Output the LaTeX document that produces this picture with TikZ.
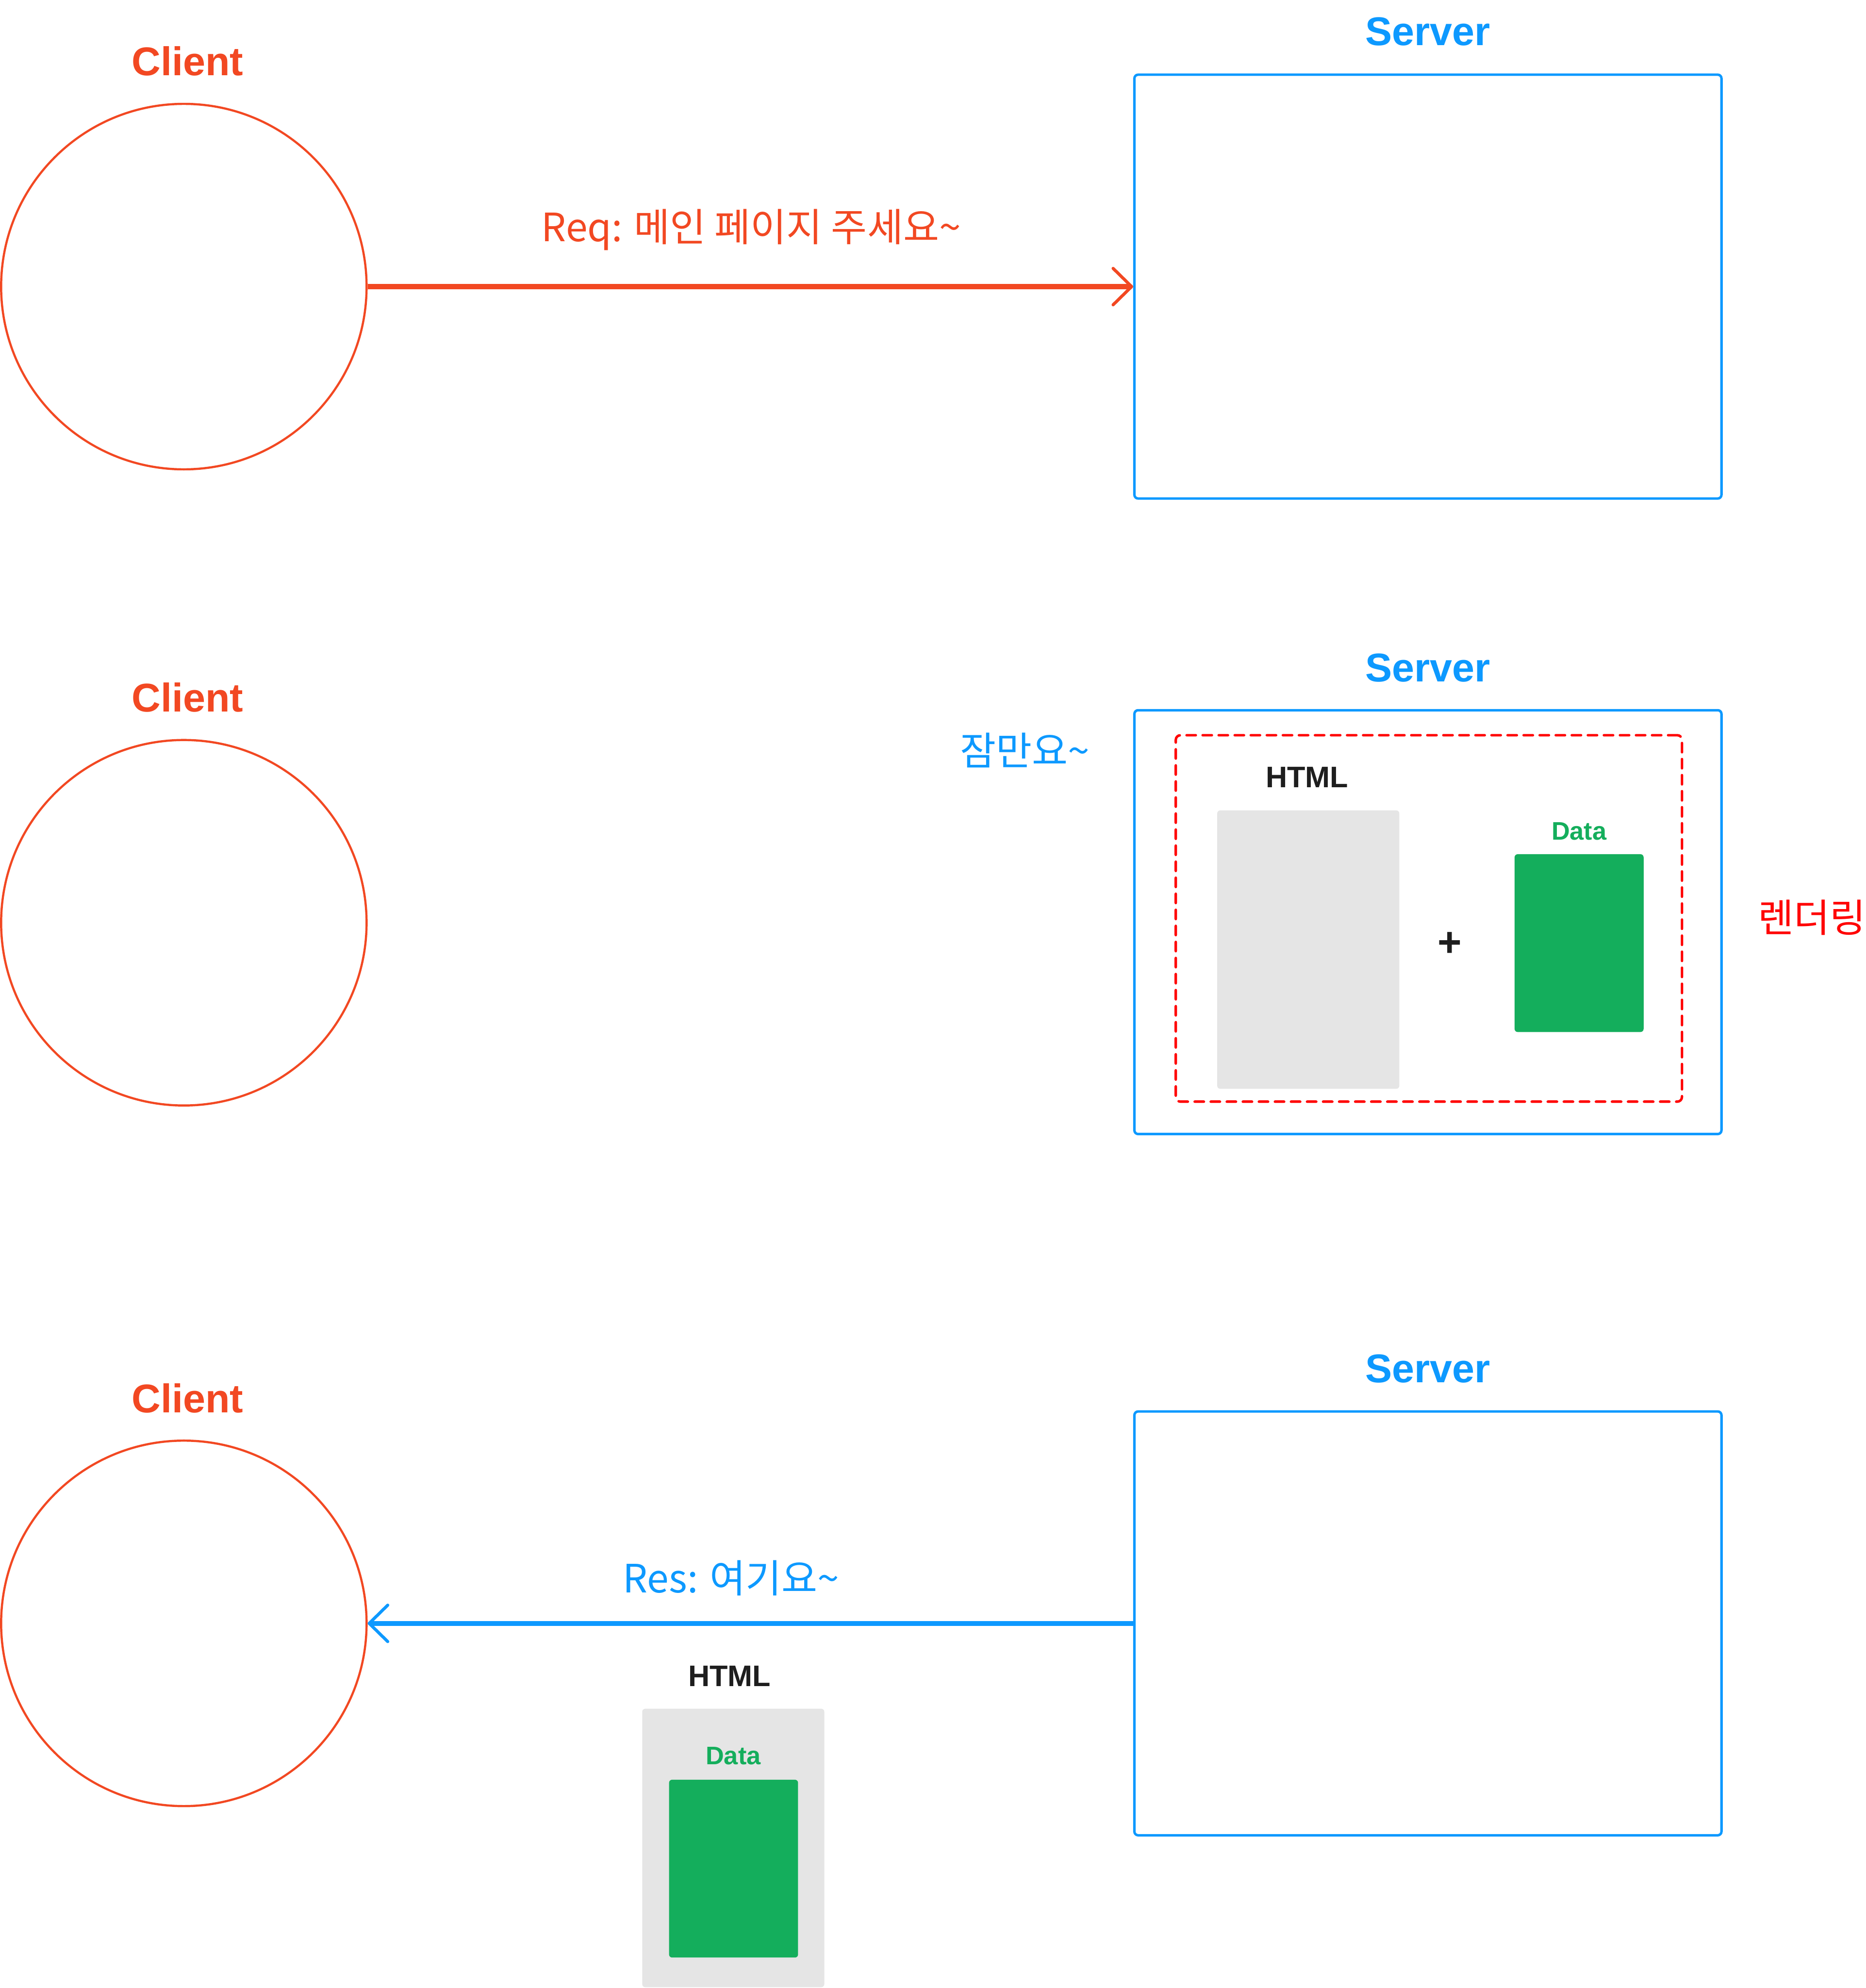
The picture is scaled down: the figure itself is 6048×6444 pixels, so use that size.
\documentclass[tikz,border=0pt]{standalone}
\usepackage{fontspec}
\setmainfont{Liberation Sans}
\newfontfamily\kr{Noto Sans CJK KR}
\usetikzlibrary{arrows.meta}
\definecolor{cred}{HTML}{F24822}
\definecolor{cblue}{HTML}{0D99FF}
\definecolor{cgreen}{HTML}{14AE5C}
\definecolor{cgray}{HTML}{E5E5E5}
\definecolor{cdark}{HTML}{1E1E1E}
\definecolor{pured}{HTML}{FF0000}
\tikzset{
  client/.style={circle, draw=cred, line width=0.07cm, minimum size=11.84cm, inner sep=0pt},
  server/.style={rectangle, draw=cblue, line width=0.08cm, minimum width=19.02cm, minimum height=13.73cm, rounded corners=0.12cm, inner sep=0pt},
  clientlbl/.style={anchor=base, text=cred, font=\fontsize{37}{40}\selectfont\bfseries, inner sep=0pt},
  serverlbl/.style={anchor=base, text=cblue, font=\fontsize{37}{40}\selectfont\bfseries, inner sep=0pt},
  msg/.style={inner sep=0pt, font=\kr\fontsize{36}{40}\selectfont},
  htmlbox/.style={rectangle, fill=cgray, minimum width=5.9cm, minimum height=9.02cm, rounded corners=0.1cm, inner sep=0pt},
  databox/.style={rectangle, fill=cgreen, minimum width=4.18cm, minimum height=5.76cm, rounded corners=0.1cm, inner sep=0pt},
  htmllbl/.style={anchor=base, text=cdark, font=\fontsize{27.4}{30}\selectfont\bfseries, inner sep=0pt},
  datalbl/.style={anchor=base, text=cgreen, font=\fontsize{23.4}{26}\selectfont\bfseries, inner sep=0pt},
  renderbox/.style={rectangle, draw=pured, line width=0.08cm, dash pattern=on 0.3cm off 0.22cm, line cap=round, rounded corners=0.15cm, minimum width=16.4cm, minimum height=11.87cm, inner sep=0pt},
  reqarrow/.style={draw=cred, line width=0.16cm, -{Straight Barb[length=0.6cm, width=1.18cm, line width=0.1cm, round]}},
  resarrow/.style={draw=cblue, line width=0.16cm, -{Straight Barb[length=0.6cm, width=1.18cm, line width=0.1cm, round]}}
}
\begin{document}
\begin{tikzpicture}[x=0.01cm, y=-0.01cm]
\useasboundingbox (0,0) rectangle (6048,6444);
\fill[white] (0,0) rectangle (6048,6444);

% ---- Section 1 ----
\node[client] (c1) at (596,929) {};
\node[clientlbl] (cl1) at (608,244) {Client};
\node[server] (s1) at (4629,929) {};
\node[serverlbl] (sl1) at (4629,147) {Server};
\draw[reqarrow] (c1.east) -- (s1.west);
\node[msg, text=cred, anchor=base] (req) at (2435,783) {Req: 메인 페이지 주세요\textasciitilde};

% ---- Section 2 ----
\node[client] (c2) at (596,2991) {};
\node[clientlbl] (cl2) at (608,2307) {Client};
\node[server] (s2) at (4629,2989) {};
\node[serverlbl] (sl2) at (4629,2209) {Server};
\node[msg, text=cblue] (wait) at (3323,2432) {잠만요\textasciitilde};
\node[renderbox] (rb) at (4632,2977) {};
\node[htmlbox] (h2) at (4241,3078) {};
\node[htmllbl] (hl2) at (4237,2553) {HTML};
\node[databox] (d2) at (5119,3057) {};
\node[datalbl] (dl2) at (5119,2722) {Data};
\node[inner sep=0pt, text=cdark, font=\fontsize{38}{40}\selectfont\bfseries] (plus) at (4700,3061) {+};
\node[msg, text=pured] (render) at (5873,2974) {렌더링};

% ---- Section 3 ----
\node[client] (c3) at (596,5262) {};
\node[clientlbl] (cl3) at (608,4579) {Client};
\node[server] (s3) at (4629,5262) {};
\node[serverlbl] (sl3) at (4629,4481) {Server};
\draw[resarrow] (s3.west) -- (c3.east);
\node[msg, text=cblue, anchor=base] (res) at (2370,5163) {Res: 여기요\textasciitilde};
\node[htmllbl] (hl3) at (2365,5466) {HTML};
\node[htmlbox] (h3) at (2377,5990) {};
\node[databox] (d3) at (2378,6057) {};
\node[datalbl] (dl3) at (2377,5720) {Data};
\end{tikzpicture}
\end{document}
